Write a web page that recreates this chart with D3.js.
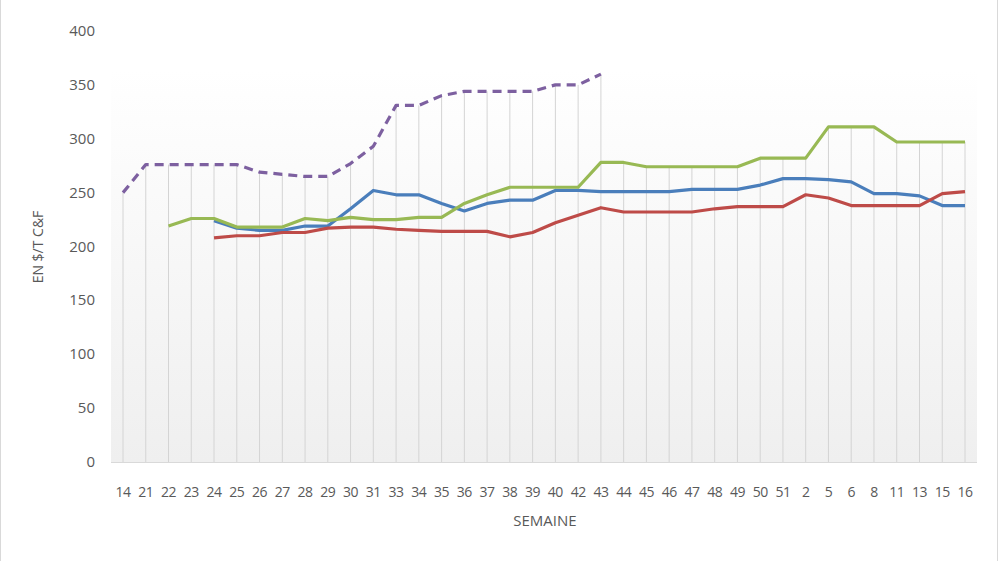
<!DOCTYPE html><html><head><meta charset="utf-8"><script src="https://cdn.jsdelivr.net/npm/d3@7"></script>
<style>body{margin:0;background:#fff}text{font-family:"Open Sans",sans-serif;fill:#595959}</style></head><body><svg id="c" width="1000" height="561"></svg><script>
const weeks=["14","21","22","23","24","25","26","27","28","29","30","31","33","34","35","36","37","38","39","40","42","43","44","45","46","47","48","49","50","51","2","5","6","8","11","13","15","16"];
const N=null;
const purple=[250,276,276,276,276,276,269,267,265,265,277,293,331,331,340,344,344,344,344,350,350,360,N,N,N,N,N,N,N,N,N,N,N,N,N,N,N,N];
const green=[N,N,219,226,226,218,218,218,226,224,227,225,225,227,227,240,248,255,255,255,255,278,278,274,274,274,274,274,282,282,282,311,311,311,297,297,297,297];
const blue=[N,N,N,N,224,217,215,215,219,219,235,252,248,248,240,233,240,243,243,252,252,251,251,251,251,253,253,253,257,263,263,262,260,249,249,247,238,238];
const red=[N,N,N,N,208,210,210,213,213,217,218,218,216,215,214,214,214,209,213,222,229,236,232,232,232,232,235,237,237,237,248,245,238,238,238,238,249,251];
const yTicks=[0,50,100,150,200,250,300,350,400];
const svg=d3.select("#c");
svg.append("rect").attr("x",0.5).attr("y",-2).attr("width",997).attr("height",570).attr("fill","none").attr("stroke","#d9d9d9");
const L=111,R=977,T=31,B=462;
const defs=svg.append("defs");const g=defs.append("linearGradient").attr("id","bg").attr("x1",0).attr("x2",0).attr("y1",0).attr("y2",1);
g.append("stop").attr("offset",0).attr("stop-color","#ffffff");g.append("stop").attr("offset",1).attr("stop-color","#efefef");
svg.append("rect").attr("x",L).attr("y",70).attr("width",R-L).attr("height",B-70).attr("fill","url(#bg)");
const x=d3.scalePoint().domain(weeks).range([123,965]);
const y=d3.scaleLinear().domain([0,400]).range([B,T]);
// drop lines
weeks.forEach((w,i)=>{const m=d3.max([purple[i],green[i],blue[i],red[i]]);
svg.append("line").attr("x1",x(w)).attr("x2",x(w)).attr("y1",y(m)).attr("y2",y(0)).attr("stroke","#d4d4d4").attr("stroke-width",1);});
svg.append("line").attr("x1",L).attr("x2",R).attr("y1",B+0.5).attr("y2",B+0.5).attr("stroke","#d9d9d9");
const ax=svg.append("g");
yTicks.forEach(t=>ax.append("text").attr("x",95).attr("y",y(t)+5).attr("text-anchor","end").attr("font-size",15).text(t));
weeks.forEach(w=>ax.append("text").attr("x",x(w)).attr("y",497).attr("text-anchor","middle").attr("font-size",14).attr("letter-spacing",-0.5).text(w));
svg.append("text").attr("x",545).attr("y",526).attr("text-anchor","middle").attr("font-size",15).text("SEMAINE");
svg.append("text").attr("transform","translate(43,247) rotate(-90)").attr("text-anchor","middle").attr("font-size",14).text("EN $/T C&F");
const line=d3.line().defined(d=>d!=null).x((d,i)=>x(weeks[i])).y(d=>y(d));
[[blue,"#4a7ebb",N],[red,"#be4b48",N],[green,"#98b954",N],[purple,"#7d60a0","9,6"]].forEach(([s,c,da])=>{
svg.append("path").attr("d",line(s)).attr("fill","none").attr("stroke",c).attr("stroke-width",3.2).attr("stroke-dasharray",da).attr("stroke-linejoin","round");});
</script></body></html>
